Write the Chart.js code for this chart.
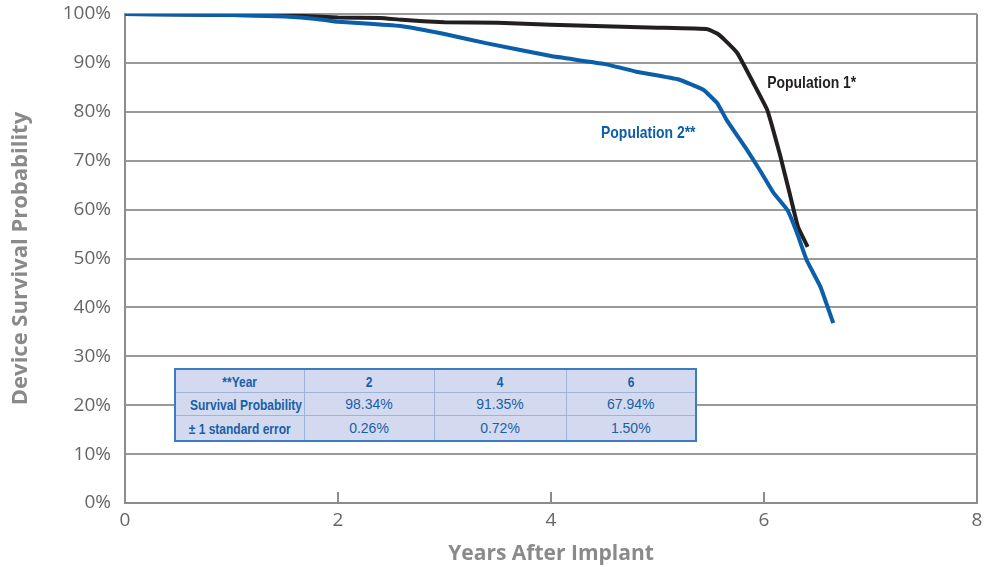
<!DOCTYPE html>
<html>
<head>
<meta charset="utf-8">
<script src="https://cdn.jsdelivr.net/npm/chart.js@4.4.0/dist/chart.umd.min.js"></script>
<style>
    html, body { margin: 0; padding: 0; background: #fff; }
    .wrap { position: relative; width: 984px; height: 567px; }
    canvas { display: block; }
    .stats {
        position: absolute;
        left: 174px;
        top: 368px;
        width: 521px;
        border-collapse: collapse;
        background: #d3daef;
        border: 2px solid #3b7cc4;
        color: #1a5ea8;
        table-layout: fixed;
    }
    .stats td {
        border: 1px solid #9fb3da;
        text-align: center;
        height: 22px;
        padding: 0;
        white-space: nowrap;
        overflow: hidden;
        font: 14px "Liberation Sans", Arial, sans-serif;
    }
    .stats tr:last-child td { height: 24px; }
    .stats .hd span {
        display: inline-block;
        font: bold 15px "Liberation Sans", Arial, sans-serif;
        transform: scaleX(0.8);
    }
</style>
</head>
<body>
<div class="wrap">
    <canvas id="survivalChart" width="984" height="567"></canvas>
    <table class="stats">
        <colgroup><col style="width:129px"><col style="width:130px"><col style="width:132px"><col style="width:130px"></colgroup>
        <tr><td class="hd"><span>**Year</span></td><td class="hd"><span>2</span></td><td class="hd"><span>4</span></td><td class="hd"><span>6</span></td></tr>
        <tr><td class="hd"><span>Survival Probability</span></td><td>98.34%</td><td>91.35%</td><td>67.94%</td></tr>
        <tr><td class="hd"><span>± 1 standard error</span></td><td>0.26%</td><td>0.72%</td><td>1.50%</td></tr>
    </table>
</div>
<script>
// Kaplan-Meier style survival curves
const pop1Years = [0, 0.5, 1.0, 1.5, 1.8, 2.0, 2.4, 2.6, 3.0, 3.5, 4.0, 4.5, 5.0, 5.47, 5.56, 5.63, 5.75, 5.9, 6.03, 6.15, 6.24, 6.32, 6.41];
const pop1Survival = [100, 99.9, 99.8, 99.7, 99.5, 99.3, 99.2, 98.8, 98.3, 98.2, 97.8, 97.5, 97.2, 96.9, 96.0, 94.7, 92.0, 85.9, 80.4, 71.2, 63.4, 56.4, 52.4];

const pop2Years = [0, 0.5, 1.0, 1.5, 1.8, 2.0, 2.3, 2.6, 3.0, 3.4, 4.0, 4.5, 4.8, 5.2, 5.43, 5.56, 5.65, 5.84, 5.96, 6.09, 6.22, 6.31, 6.40, 6.53, 6.65];
const pop2Survival = [100, 99.9, 99.8, 99.5, 99.0, 98.4, 98.0, 97.5, 95.9, 94.0, 91.4, 89.8, 88.2, 86.6, 84.5, 81.8, 78.3, 72.2, 68.1, 63.4, 59.9, 55.2, 49.7, 44.2, 36.8];

const xTicks = [0, 2, 4, 6, 8];

const seriesLabels = [
    { text: 'Population 1*', x: 6.03, y: 85.9, color: '#231f20' },
    { text: 'Population 2**', x: 4.47, y: 75.7, color: '#0a5eaa' }
];

function toPoints(xs, ys) {
    return xs.map((x, i) => ({ x: x, y: ys[i] }));
}

// short tick marks pointing up from the x axis, plus the curve labels
const innerTicks = {
    id: 'innerTicks',
    afterDraw(chart) {
        const ctx = chart.ctx;
        const x = chart.scales.x;
        const y = chart.scales.y;
        ctx.save();
        ctx.strokeStyle = '#8c8c8c';
        ctx.lineWidth = 2;
        [2, 4, 6].forEach(v => {
            const px = Math.round(x.getPixelForValue(v));
            ctx.beginPath();
            ctx.moveTo(px, y.bottom);
            ctx.lineTo(px, y.bottom - 11);
            ctx.stroke();
        });
        ctx.font = 'bold 17px "Liberation Sans", Arial, sans-serif';
        ctx.textBaseline = 'middle';
        ctx.textAlign = 'left';
        seriesLabels.forEach(l => {
            ctx.save();
            ctx.translate(x.getPixelForValue(l.x), y.getPixelForValue(l.y));
            ctx.scale(0.82, 1);
            ctx.fillStyle = l.color;
            ctx.fillText(l.text, 0, 0);
            ctx.restore();
        });
        ctx.restore();
    }
};

const ctx = document.getElementById('survivalChart');

new Chart(ctx, {
    type: 'line',
    data: {
        datasets: [
            {
                label: 'Population 2**',
                data: toPoints(pop2Years, pop2Survival),
                borderColor: '#0a5eaa',
                borderWidth: 4,
                pointRadius: 0,
                tension: 0.1,
                fill: false
            },
            {
                label: 'Population 1*',
                data: toPoints(pop1Years, pop1Survival),
                borderColor: '#231f20',
                borderWidth: 4,
                pointRadius: 0,
                tension: 0.1,
                fill: false
            }
        ]
    },
    options: {
        responsive: false,
        animation: false,
        layout: { padding: { top: 14, right: 7, left: 0, bottom: 0 } },
        plugins: {
            legend: { display: false },
            tooltip: { enabled: false }
        },
        scales: {
            x: {
                type: 'linear',
                min: 0,
                max: 8,
                afterFit: s => {
                    s.height = 64;
                    s.paddingLeft = 0;
                    s.paddingRight = 0;
                },
                afterBuildTicks: s => { s.ticks = xTicks.map(v => ({ value: v })); },
                ticks: {
                    color: '#666',
                    font: { family: 'Open Sans', size: 19 },
                    padding: 6
                },
                grid: {
                    drawTicks: false,
                    lineWidth: 2,
                    color: c => (c.tick && c.tick.value === 8) ? '#8c8c8c' : 'rgba(0,0,0,0)'
                },
                border: { color: '#8c8c8c', width: 2 },
                title: {
                    display: true,
                    text: 'Years After Implant',
                    color: '#8a8a8a',
                    font: { family: 'Open Sans', size: 21, weight: 'bold' },
                    padding: { top: 6, bottom: 0 }
                }
            },
            y: {
                min: 0,
                max: 100,
                afterFit: s => {
                    s.width = 125;
                    s.paddingTop = 0;
                    s.paddingBottom = 0;
                },
                ticks: {
                    stepSize: 10,
                    color: '#666',
                    font: { family: 'Open Sans', size: 19 },
                    padding: 14,
                    callback: v => v + '%'
                },
                grid: {
                    drawTicks: false,
                    lineWidth: 2,
                    color: '#999'
                },
                border: { color: '#8c8c8c', width: 2 },
                title: {
                    display: true,
                    text: 'Device Survival Probability',
                    color: '#8a8a8a',
                    font: { family: 'Open Sans', size: 22, weight: 'bold' },
                    padding: { top: 8, bottom: 0 }
                }
            }
        }
    },
    plugins: [innerTicks]
});
</script>
</body>
</html>
